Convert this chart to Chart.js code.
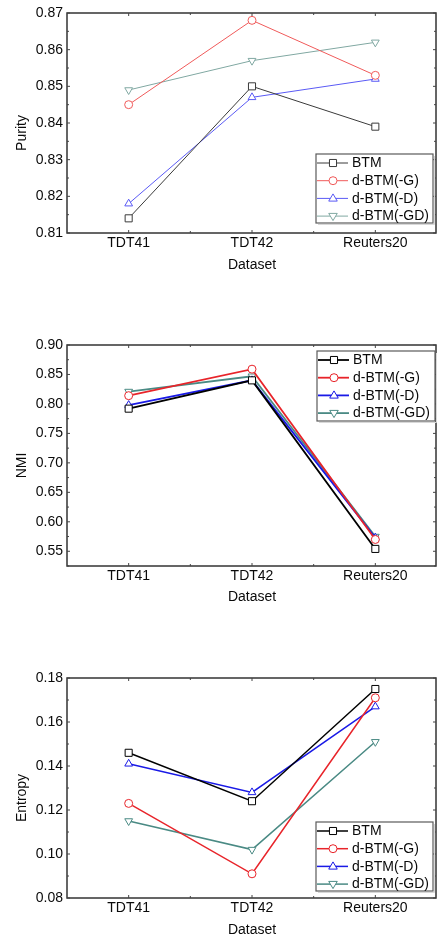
<!DOCTYPE html>
<html><head><meta charset="utf-8">
<script src="https://cdn.jsdelivr.net/npm/chart.js@4/dist/chart.umd.min.js"></script>
<style>
html,body{margin:0;padding:0;background:#fff;width:437px;height:940px;overflow:hidden}
.c{position:absolute;left:0;width:437px}
</style></head><body>
<div class="c" style="top:0;height:280px"><canvas id="c1" width="437" height="280"></canvas></div>
<div class="c" style="top:300px;height:310px"><canvas id="c2" width="437" height="310"></canvas></div>
<div class="c" style="top:630px;height:310px"><canvas id="c3" width="437" height="310"></canvas></div>
<script>
const categories = ['TDT41', 'TDT42', 'Reuters20'];
const seriesNames = ['BTM', 'd-BTM(-G)', 'd-BTM(-D)', 'd-BTM(-GD)'];

const purityBTM = [0.814, 0.850, 0.839];
const purityG   = [0.845, 0.868, 0.853];
const purityD   = [0.818, 0.847, 0.852];
const purityGD  = [0.849, 0.857, 0.862];

const nmiBTM = [0.792, 0.840, 0.554];
const nmiG   = [0.814, 0.859, 0.570];
const nmiD   = [0.798, 0.840, 0.573];
const nmiGD  = [0.821, 0.847, 0.575];

const entropyBTM = [0.146, 0.124, 0.175];
const entropyG   = [0.123, 0.091, 0.171];
const entropyD   = [0.141, 0.128, 0.167];
const entropyGD  = [0.115, 0.102, 0.151];

const purityTicks  = [0.81, 0.82, 0.83, 0.84, 0.85, 0.86, 0.87];
const nmiTicks     = [0.55, 0.60, 0.65, 0.70, 0.75, 0.80, 0.85, 0.90];
const entropyTicks = [0.08, 0.10, 0.12, 0.14, 0.16, 0.18];

const FONT = {family: '"Liberation Sans", Arial, Helvetica, sans-serif', size: 14};
const TXT = '#0a0a0a';
const pointStyles = ['rect', 'circle', 'triangle', 'triangle'];
const pointRot = [0, 0, 0, 180];
const pointRad = [5, 4, 4.5, 4.5];

function drawMarker(ctx, style, rot, r, x, y) {
  ctx.beginPath();
  if (style === 'rect') {
    const s = r * Math.SQRT1_2;
    ctx.rect(x - s, y - s, 2 * s, 2 * s);
  } else if (style === 'circle') {
    ctx.arc(x, y, r, 0, Math.PI * 2);
  } else {
    const d = rot === 180 ? -1 : 1;
    ctx.moveTo(x, y - d * r);
    ctx.lineTo(x - r * 0.95, y + d * r * 0.6);
    ctx.lineTo(x + r * 0.95, y + d * r * 0.6);
    ctx.closePath();
  }
  ctx.fill();
  ctx.stroke();
}

const framePlugin = {
  id: 'frameTicks',
  afterDraw(chart, args, opts) {
    const ctx = chart.ctx, a = chart.chartArea;
    const xs = chart.scales.x, ys = chart.scales.y;
    const R = a.right - 1;
    ctx.save();
    ctx.strokeStyle = '#333';
    ctx.lineWidth = 1.5;
    ctx.strokeRect(a.left, a.top, R - a.left, a.bottom - a.top);
    ctx.lineWidth = 1;
    ctx.strokeStyle = '#444';
    const tv = opts.ticks;
    const vals = [];
    for (let i = 0; i < tv.length; i++) {
      vals.push([tv[i], 3]);
      if (i < tv.length - 1) vals.push([(tv[i] + tv[i + 1]) / 2, 2]);
    }
    vals.push([tv[0] - (tv[1] - tv[0]) / 2, 2]);
    ctx.beginPath();
    for (const [v, L] of vals) {
      const y = ys.getPixelForValue(v);
      if (y < a.top - 0.5 || y > a.bottom + 0.5) continue;
      ctx.moveTo(a.left, y); ctx.lineTo(a.left + L, y);
      ctx.moveTo(R, y); ctx.lineTo(R - L, y);
    }
    const n = categories.length;
    for (let i = 0; i < n; i++) {
      const x = xs.getPixelForValue(i);
      ctx.moveTo(x, a.bottom); ctx.lineTo(x, a.bottom - 3);
      ctx.moveTo(x, a.top); ctx.lineTo(x, a.top + 3);
      if (i < n - 1) {
        const xb = (x + xs.getPixelForValue(i + 1)) / 2;
        ctx.moveTo(xb, a.bottom); ctx.lineTo(xb, a.bottom - 2);
        ctx.moveTo(xb, a.top); ctx.lineTo(xb, a.top + 2);
      }
    }
    ctx.stroke();

    ctx.fillStyle = TXT;
    ctx.font = FONT.size + 'px ' + FONT.family;
    ctx.textAlign = 'center';
    ctx.textBaseline = 'middle';
    ctx.translate(22, (a.top + a.bottom) / 2 + 10);
    ctx.rotate(-Math.PI / 2);
    ctx.fillText(opts.yTitle, 0, 0);
    ctx.restore();

    const L = opts.legend;
    ctx.save();
    const bx = a.left + L.left, by = L.top, bw = L.width, bh = L.height;
    ctx.fillStyle = '#fff';
    ctx.fillRect(bx, by, bw, bh);
    ctx.strokeStyle = '#d8d8d8';
    ctx.lineWidth = 1;
    ctx.beginPath();
    ctx.moveTo(bx + bw + 1.5, by + 2); ctx.lineTo(bx + bw + 1.5, by + bh + 1.5); ctx.lineTo(bx + 2, by + bh + 1.5);
    ctx.stroke();
    ctx.strokeStyle = '#5a5a5a';
    ctx.lineWidth = 1.2;
    ctx.strokeRect(bx, by, bw, bh);
    chart.data.datasets.forEach((ds, i) => {
      const y = by + 9 + i * 17.7;
      ctx.strokeStyle = ds.borderColor;
      ctx.lineWidth = ds.borderWidth;
      ctx.beginPath();
      ctx.moveTo(bx + 1, y); ctx.lineTo(bx + 32, y);
      ctx.stroke();
      ctx.fillStyle = '#fff';
      ctx.lineWidth = 1;
      drawMarker(ctx, pointStyles[i], pointRot[i], pointRad[i], bx + 17, y);
      ctx.fillStyle = TXT;
      ctx.font = FONT.size + 'px ' + FONT.family;
      ctx.textAlign = 'left';
      ctx.textBaseline = 'middle';
      ctx.fillText(ds.label, bx + 36, y + 0.5);
    });
    ctx.restore();
  }
};

function makeChart(id, cfg) {
  const datasets = cfg.series.map((vals, i) => ({
    label: seriesNames[i],
    data: vals,
    borderColor: cfg.colors[i],
    borderWidth: cfg.lineWidth,
    pointStyle: pointStyles[i],
    rotation: pointRot[i],
    pointRadius: pointRad[i],
    pointBorderWidth: 1,
    pointBorderColor: cfg.colors[i],
    pointBackgroundColor: '#fff',
    tension: 0,
    fill: false
  }));
  return new Chart(document.getElementById(id), {
    type: 'line',
    data: {labels: categories, datasets},
    options: {
      responsive: false,
      animation: false,
      events: [],
      layout: {autoPadding: false, padding: {top: cfg.plotTop, right: 0, left: 0, bottom: 0}},
      plugins: {
        legend: {display: false},
        tooltip: {enabled: false},
        frameTicks: {ticks: cfg.ticks, yTitle: cfg.yTitle, legend: cfg.legend}
      },
      scales: {
        x: {
          type: 'category',
          offset: true,
          grid: {display: false, drawTicks: false},
          border: {display: false},
          ticks: {font: FONT, color: TXT, padding: 2, maxRotation: 0, autoSkip: false},
          title: {display: true, text: 'Dataset', font: FONT, color: TXT, padding: {top: 0, bottom: cfg.xTitlePad}},
          afterFit(s) { s.height = cfg.xHeight; s.paddingLeft = 0; s.paddingRight = 0; }
        },
        y: {
          min: cfg.min, max: cfg.max,
          grid: {display: false, drawTicks: false},
          border: {display: false},
          afterBuildTicks(s) { s.ticks = cfg.ticks.map(v => ({value: v})); },
          ticks: {font: FONT, color: TXT, padding: 4, callback: v => Number(v).toFixed(2)},
          afterFit(s) { s.width = 67; s.paddingTop = 0; s.paddingBottom = 0; }
        }
      }
    },
    plugins: [framePlugin]
  });
}

makeChart('c1', {
  series: [purityBTM, purityG, purityD, purityGD],
  colors: ['#3a3a3a', '#f05a5a', '#5a5af5', '#80a8a2'],
  lineWidth: 1,
  ticks: purityTicks, min: 0.81, max: 0.87,
  yTitle: 'Purity',
  plotTop: 13, xHeight: 47, xTitlePad: 6,
  legend: {left: 249, top: 154, width: 117, height: 69}
});
makeChart('c2', {
  series: [nmiBTM, nmiG, nmiD, nmiGD],
  colors: ['#000000', '#e8242a', '#1a1ae6', '#4a8a84'],
  lineWidth: 1.8,
  ticks: nmiTicks, min: 0.525, max: 0.90,
  yTitle: 'NMI',
  plotTop: 45, xHeight: 44, xTitlePad: 4,
  legend: {left: 250, top: 51, width: 118, height: 70}
});
makeChart('c3', {
  series: [entropyBTM, entropyG, entropyD, entropyGD],
  colors: ['#000000', '#e8242a', '#1a1ae6', '#4a8a84'],
  lineWidth: 1.5,
  ticks: entropyTicks, min: 0.08, max: 0.18,
  yTitle: 'Entropy',
  plotTop: 48, xHeight: 42, xTitlePad: 1,
  legend: {left: 249, top: 192, width: 117, height: 69}
});
</script>
</body></html>
